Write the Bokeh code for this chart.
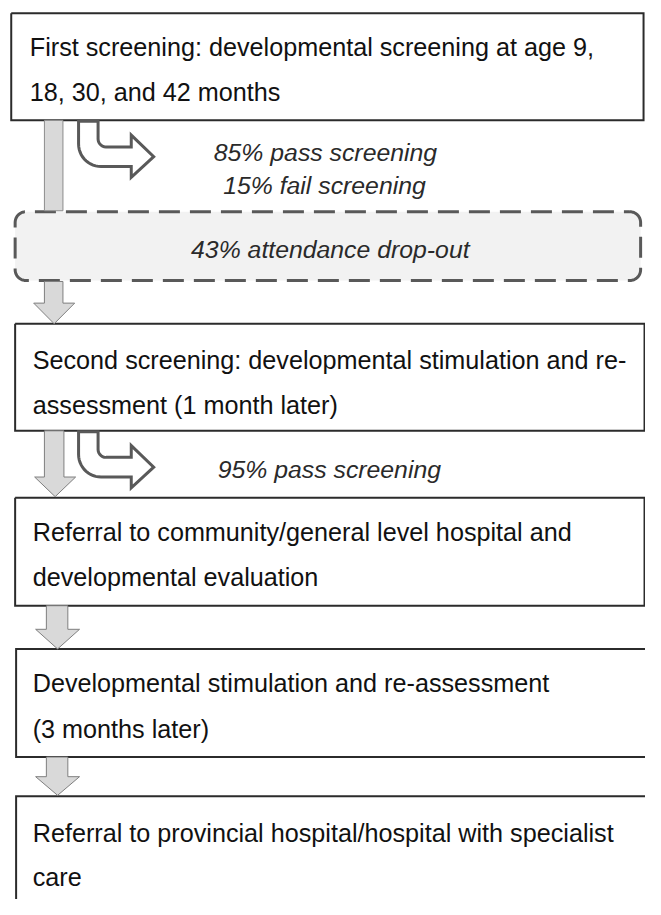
import numpy as np
from bokeh.plotting import figure
from bokeh.models import Range1d, ColumnDataSource
from bokeh.core.properties import value
from bokeh.embed import file_html
from bokeh.resources import INLINE

# ---------------- data ----------------
box_lines = [
    ["First screening: developmental screening at age 9,", "18, 30, and 42 months"],
    ["Second screening: developmental stimulation and re-", "assessment (1 month later)"],
    ["Referral to community/general level hospital and", "developmental evaluation"],
    ["Developmental stimulation and re-assessment", "(3 months later)"],
    ["Referral to provincial hospital/hospital with specialist", "care"],
]
note_after_first = ["85% pass screening", "15% fail screening"]
dropout_text = "43% attendance drop-out"
note_after_second = ["95% pass screening"]

# ---------------- layout (reference pixels, scaled into the figure) ----------------
W, H = 645, 899
SX, SY = W / 661.0, H / 915.0
def X(v): return np.asarray(v, dtype=float) * SX
def Y(v): return np.asarray(v, dtype=float) * SY

box_top = [13, 329, 506, 660, 810]
box_bot = [122, 438, 616, 770, 960]
box_left = [11, 15, 15, 16, 16]
box_right = [659, 660, 660, 700, 700]
box_closed = [True, True, True, False, False]
line_y = [(47, 93), (366, 412), (541, 587), (695, 741), (847, 892)]
text_x = [30, 33, 33, 33, 33]

p = figure(width=W, height=H, output_backend="svg", toolbar_location=None,
           x_range=Range1d(0, W), y_range=Range1d(H, 0), min_border=0)
p.axis.visible = False
p.grid.visible = False
p.outline_line_color = None
p.background_fill_color = "white"
p.border_fill_color = "white"

# boxes: white fill, then outlines (the lower two run off the right edge)
p.quad(left=X(box_left), right=X(box_right), top=Y(box_top), bottom=Y(box_bot),
       fill_color="white", line_color=None)
bxs, bys = [], []
for l, r, t, b, closed in zip(box_left, box_right, box_top, box_bot, box_closed):
    if closed:
        bxs.append(list(X([l, r, r, l, l]))); bys.append(list(Y([t, t, b, b, t])))
    else:
        bxs.append(list(X([r, l, l, r]))); bys.append(list(Y([t, t, b, b])))
p.multi_line(bxs, bys, line_color="#2b2b2b", line_width=2, line_join="miter")

# dashed rounded box
def rounded_rect(l, t, r, b, rad, n=12):
    pts = []
    corners = [(r - rad, t + rad, -np.pi / 2, 0), (r - rad, b - rad, 0, np.pi / 2),
               (l + rad, b - rad, np.pi / 2, np.pi), (l + rad, t + rad, np.pi, 1.5 * np.pi)]
    for cx, cy, a0, a1 in corners:
        a = np.linspace(a0, a1, n)
        pts += list(zip(cx + rad * np.cos(a), cy + rad * np.sin(a)))
    pts.append(pts[0])
    xs, ys = zip(*pts)
    return list(xs), list(ys)

dx, dy = rounded_rect(15, 215, 656, 285, 11)
p.patch(X(dx), Y(dy), fill_color="#f2f2f2", line_color=None)
p.line(X(dx), Y(dy), line_color="#595959", line_width=3, line_dash="21 10")

# gray straight arrows
p.quad(left=X([45]), right=X([64]), top=Y([122]), bottom=Y([214]),
       fill_color="#d9d9d9", line_color="#8c8c8c", line_width=1)

def down_arrow(xl, xr, y0, y1, hl, hr, y2):
    mid = (hl + hr) / 2
    return ([xl, xr, xr, hr, mid, hl, xl, xl], [y0, y0, y1, y1, y2, y1, y1, y0])

arrows = [down_arrow(45, 64, 286, 308, 34, 76, 329),
          down_arrow(45, 65, 438, 485, 35, 77, 505),
          down_arrow(47, 69, 616, 640, 36, 81, 660),
          down_arrow(47, 69, 770, 790, 36, 81, 809)]
p.patches([list(X(a[0])) for a in arrows], [list(Y(a[1])) for a in arrows],
          fill_color="#d9d9d9", line_color="#7f7f7f", line_width=1)

# bent (turn right) arrows
def bent_arrow(y0):
    pts = [(80, y0), (80, y0 + 22)]
    a = np.linspace(np.pi, np.pi / 2, 14)
    cx, cy, rr = 103, y0 + 23, 23
    pts += list(zip(cx + rr * np.cos(a), cy + rr * np.sin(a)))
    pts += [(134, y0 + 46), (134, y0 + 57), (157, y0 + 36), (134, y0 + 14), (134, y0 + 26), (108, y0 + 26)]
    a = np.linspace(np.pi / 2, np.pi, 8)
    cx, cy, rr = 108, y0 + 18, 8
    pts += list(zip(cx + rr * np.cos(a), cy + rr * np.sin(a)))
    pts += [(100, y0)]
    xs, ys = zip(*pts)
    return list(xs), list(ys)

for y0 in (123, 439):
    bx, by = bent_arrow(y0)
    p.patch(X(bx), Y(by), fill_color="white", line_color="#595959", line_width=3,
            line_join="miter")

# box texts
tx, ty, tt = [], [], []
for lines, (y1, y2), x0 in zip(box_lines, line_y, text_x):
    for s, yy in zip(lines, (y1, y2)):
        tx.append(x0); ty.append(yy); tt.append(s)
src = ColumnDataSource(dict(x=X(tx), y=Y(ty), t=tt))
p.text(x="x", y="y", text="t", source=src, text_font=value("Liberation Sans"),
       text_font_size="25.2px", text_baseline="middle", text_align="left", text_color="#111111")

# italic notes
nx = [333, 332, 338, 337]
ny = [155, 188, 253, 477]
nt = note_after_first + [dropout_text] + note_after_second
nsrc = ColumnDataSource(dict(x=X(nx), y=Y(ny), t=nt))
p.text(x="x", y="y", text="t", source=nsrc, text_font=value("Liberation Sans"),
       text_font_size="24.8px", text_font_style="italic", text_baseline="middle",
       text_align="center", text_color="#2a2a2a")

open("out.html", "w").write(file_html(p, INLINE))
